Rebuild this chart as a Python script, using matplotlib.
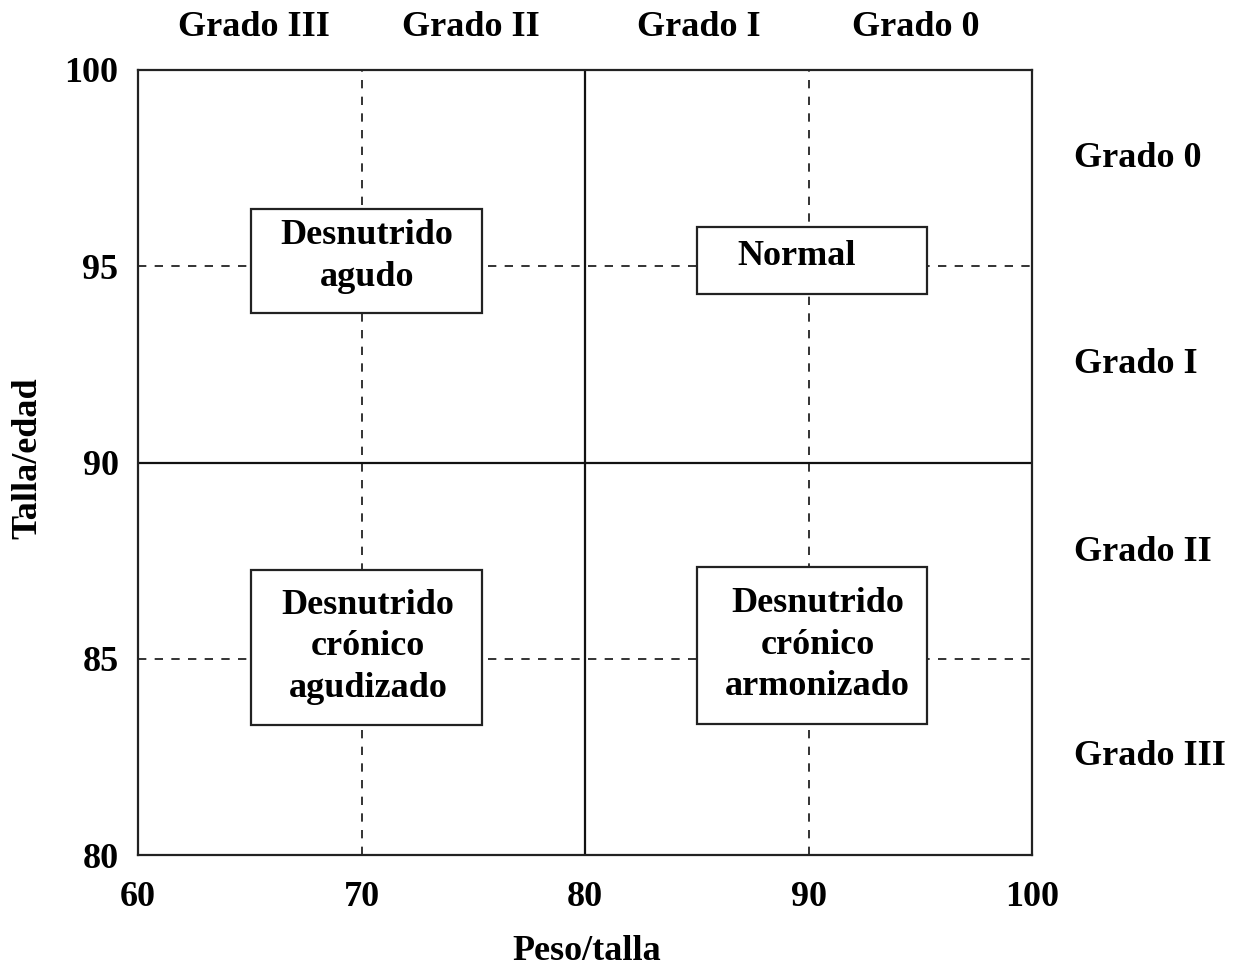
import matplotlib
matplotlib.use("Agg")
import matplotlib.pyplot as plt
from matplotlib.patches import Rectangle

# Data
x_ticks = [60, 70, 80, 90, 100]
y_ticks = [80, 85, 90, 95, 100]
solid_x = [80]
solid_y = [90]
dashed_x = [70, 90]
dashed_y = [85, 95]

top_labels = ["Grado III", "Grado II", "Grado I", "Grado 0"]
top_label_x = [65.2, 74.9, 85.1, 94.8]
right_labels = ["Grado 0", "Grado I", "Grado II", "Grado III"]
right_label_y = [97.75, 92.5, 87.7, 82.5]

box_texts = ["Desnutrido\nagudo", "Normal", "Desnutrido\ncrónico\nagudizado", "Desnutrido\ncrónico\narmonizado"]
box_x0 = [65.05, 85.0, 65.05, 85.0]
box_x1 = [75.4, 95.3, 75.4, 95.3]
box_y0 = [93.8, 94.3, 83.3, 83.35]
box_y1 = [96.45, 96.0, 87.25, 87.35]
box_text_xy = [(70.25, 95.25), (89.45, 95.25), (70.3, 85.3), (90.4, 85.35)]

plt.rcParams['font.family'] = ['Liberation Serif', 'DejaVu Serif']
plt.rcParams['font.weight'] = 'bold'
FS = 26

fig = plt.figure(figsize=(12.35, 9.68), dpi=100)
ax = fig.add_axes([138/1235, 1 - 855/968, (1032-138)/1235, (855-70)/968])
ax.set_xlim(60, 100)
ax.set_ylim(80, 100)

for s in ax.spines.values():
    s.set_linewidth(1.6)
    s.set_color('#222222')

ax.set_xticks(x_ticks)
ax.set_yticks(y_ticks)
ax.set_xticklabels([str(v) for v in x_ticks], fontsize=FS, fontweight='bold')
ax.set_yticklabels([str(v) for v in y_ticks], fontsize=FS, fontweight='bold')
ax.tick_params(axis='both', length=0)
ax.tick_params(axis='x', pad=19)
ax.tick_params(axis='y', pad=14)

for v in solid_x:
    ax.axvline(v, color='#111111', lw=1.6, zorder=1)
for v in solid_y:
    ax.axhline(v, color='#111111', lw=1.6, zorder=1)
for v in dashed_x:
    ax.axvline(v, color='#111111', lw=1.2, ls=(0, (5, 5)), zorder=1)
for v in dashed_y:
    ax.axhline(v, color='#111111', lw=1.2, ls=(0, (5, 5)), zorder=1)

for t, x0, x1, y0, y1, (tx, ty) in zip(box_texts, box_x0, box_x1, box_y0, box_y1, box_text_xy):
    ax.add_patch(Rectangle((x0, y0), x1 - x0, y1 - y0, facecolor='white',
                           edgecolor='#222222', lw=1.6, zorder=3))
    ax.text(tx, ty, t, ha='center', va='center', fontsize=FS, fontweight='bold',
            linespacing=1.35, zorder=4)

for t, x in zip(top_labels, top_label_x):
    ax.text(x, 1 + 42/785, t, transform=ax.get_xaxis_transform(),
            fontsize=FS, fontweight='bold', ha='center', va='center', clip_on=False)

for t, y in zip(right_labels, right_label_y):
    ax.text(101.9, y, t, fontsize=FS, fontweight='bold', ha='left', va='center', clip_on=False)

fig.text(28/1235, 1 - 458/968, "Talla/edad", rotation=90, fontsize=FS, fontweight='bold',
         ha='center', va='center')
fig.text(587/1235, 1 - 951/968, "Peso/talla", fontsize=FS, fontweight='bold',
         ha='center', va='center')

fig.savefig("out.png", dpi=100, facecolor='white')
